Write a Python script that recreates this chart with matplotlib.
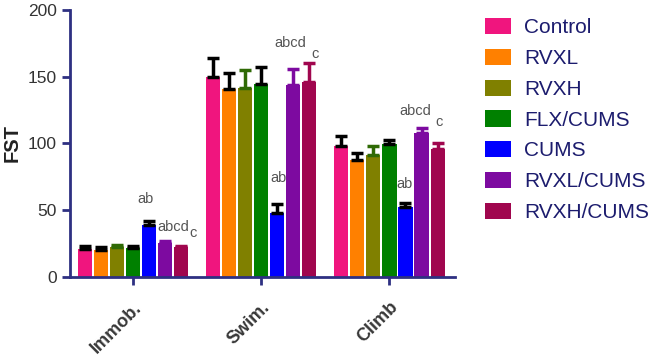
import numpy as np
import matplotlib
matplotlib.use("Agg")
import matplotlib.pyplot as plt

plt.rcParams['font.family'] = ['Liberation Sans', 'DejaVu Sans']

# =========================
# Data
# =========================
tests = ["Immob.", "Swim.", "Climb"]
groups = ["Control", "RVXL", "RVXH", "FLX/CUMS", "CUMS", "RVXL/CUMS", "RVXH/CUMS"]

control = [20.8, 150.0, 98.3]
rvxl = [20.0, 140.8, 87.5]
rvxh = [22.0, 141.8, 91.3]
flx_cums = [21.5, 144.5, 99.3]
cums = [38.8, 47.8, 52.0]
rvxl_cums = [25.5, 143.8, 107.5]
rvxh_cums = [22.5, 146.3, 95.5]

control_err = [2.0, 14.0, 7.0]
rvxl_err = [2.0, 12.0, 5.5]
rvxh_err = [1.5, 13.5, 7.0]
flx_cums_err = [1.5, 13.0, 3.0]
cums_err = [3.0, 6.5, 3.0]
rvxl_cums_err = [1.0, 12.0, 4.0]
rvxh_cums_err = [0.8, 14.0, 5.0]

means = [control, rvxl, rvxh, flx_cums, cums, rvxl_cums, rvxh_cums]
errors = [control_err, rvxl_err, rvxh_err, flx_cums_err, cums_err, rvxl_cums_err, rvxh_cums_err]

bar_colors = ["#f0157e", "#ff8000", "#808000", "#008000", "#0000ff", "#7d0aa0", "#a0064e"]
err_colors = ["black", "black", "#2f6a05", "black", "black", "#7d0aa0", "#a0064e"]

# significance letters: (text, group, x offset, y value)
sig_labels = [
    ("ab", 0, 0.10, 58.0),
    ("abcd", 0, 0.19, 37.3),
    ("c", 0, 0.44, 32.5),
    ("ab", 1, 0.137, 74.0),
    ("abcd", 1, 0.10, 175.5),
    ("c", 1, 0.39, 167.0),
    ("ab", 2, 0.117, 69.5),
    ("abcd", 2, 0.078, 124.0),
    ("c", 2, 0.36, 116.0),
]

# =========================
# Plot
# =========================
fig = plt.figure(figsize=(6.48, 3.56), dpi=100)
ax = fig.add_axes([0.108, 0.223, 0.594, 0.749])

axis_color = "#2e3082"
x = np.arange(len(tests))
step = 0.125
width = 0.11

for i, name in enumerate(groups):
    pos = x + (i - 3) * step
    ax.bar(pos, means[i], width, color=bar_colors[i], label=name, zorder=2)
    ax.errorbar(pos, means[i], yerr=[np.zeros(len(tests)), errors[i]],
                fmt="none", ecolor=err_colors[i], elinewidth=2.5,
                capsize=4, capthick=2.5, zorder=3)

for text, g, dx, y in sig_labels:
    ha = "center" if text == "ab" else "left"
    ax.text(g + dx, y, text, ha=ha, va="center", fontsize=10.5, color="#555555")

ax.set_xlim(-0.49, 2.51)
ax.set_ylim(0, 200)
ax.set_yticks([0, 50, 100, 150, 200])
ax.set_xticks(x)

for side in ["top", "right"]:
    ax.spines[side].set_visible(False)
for side in ["left", "bottom"]:
    ax.spines[side].set_color(axis_color)
    ax.spines[side].set_linewidth(2)
ax.tick_params(axis="both", colors=axis_color, width=2, length=6)
ax.tick_params(axis="y", labelsize=12.5, labelcolor="#333333")
ax.tick_params(axis="x", pad=10)

ax.set_xticklabels(tests, rotation=45, ha="right", rotation_mode="anchor",
                   fontsize=13, fontweight="bold", color="#383838")
ax.set_ylabel("FST", fontsize=14.5, fontweight="bold", color="#222222", labelpad=4)

leg = ax.legend(loc="upper left", bbox_to_anchor=(1.078, 0.97), frameon=False,
                fontsize=15, handlelength=1.25, handleheight=0.82,
                handletextpad=0.62, labelspacing=0.55, borderaxespad=0,
                borderpad=0)
for t in leg.get_texts():
    t.set_color("#1c1c6e")

fig.savefig("out.png", dpi=100)
